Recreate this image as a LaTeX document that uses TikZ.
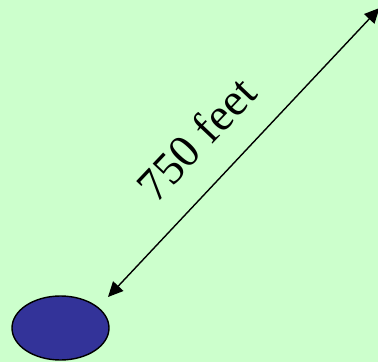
\documentclass[tikz,border=0pt]{standalone}
\usepackage{fontspec}
\setmainfont{Liberation Serif}
\usetikzlibrary{arrows.meta,shapes.geometric}
\definecolor{lawn}{HTML}{CCFFCC}
\definecolor{pondblue}{HTML}{333399}

\begin{document}
\begin{tikzpicture}[
  x=1pt, y=-1pt,
  %% style definitions
  pondshape/.style = {ellipse, draw, line width=1.4pt, fill=pondblue,
                      minimum width=97pt, minimum height=64pt, inner sep=0pt},
  dimarr/.style    = {{Triangle[length=15pt,width=14pt]}-{Triangle[length=15pt,width=14pt]},
                      line width=1.4pt},
  lbl/.style       = {font=\fontsize{46}{46}\selectfont, inner sep=0pt},
]

%% -- canvas -------------------------------------------------------------------
\fill[lawn] (0,0) rectangle (378,362);
\useasboundingbox (0,0) rectangle (378,362);

%% -- ellipse and distance -----------------------------------------------------
\node[pondshape] (pond) at (60.5,328) {};

\coordinate (near) at (108,297);
\coordinate (far)  at (379.5,8);

\draw[dimarr] (near) -- (far);

\node[lbl, rotate=46.6] (dist) at (196,139) {750 feet};

\end{tikzpicture}
\end{document}
